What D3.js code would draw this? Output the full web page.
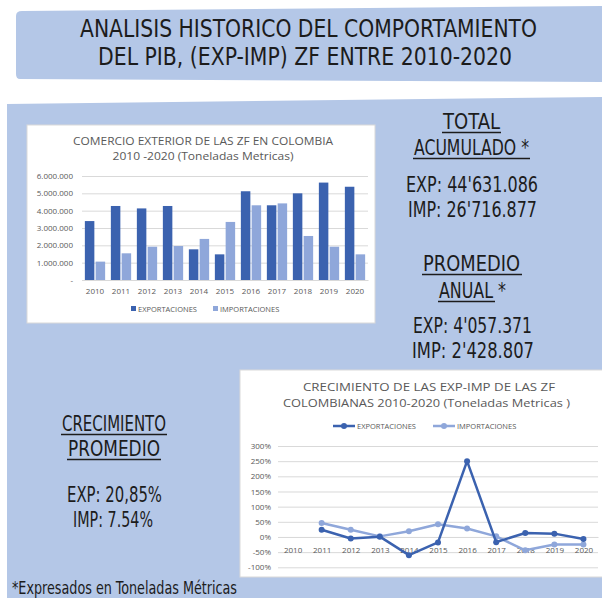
<!DOCTYPE html>
<html>
<head>
<meta charset="utf-8">
<script src="https://cdn.jsdelivr.net/npm/d3@7"></script>
<style>
  body { margin: 0; background: #fff; }
  svg { display: block; }
</style>
</head>
<body>
<div id="chart"></div>
<script>
// datos
const years = ["2010", "2011", "2012", "2013", "2014", "2015", "2016", "2017", "2018", "2019", "2020"];
const exportaciones = [3400000, 4270000, 4130000, 4270000, 1770000, 1480000, 5120000, 4310000, 5000000, 5620000, 5380000];
const importaciones = [1060000, 1540000, 1920000, 1960000, 2370000, 3350000, 4310000, 4420000, 2540000, 1920000, 1480000];
const barTicks = [0, 1000000, 2000000, 3000000, 4000000, 5000000, 6000000];

const crecExp = [null, 24, -5, 1, -60, -18, 250, -17, 13, 11, -7];
const crecImp = [null, 46, 24, 2, 19, 42, 28, 2, -44, -25, -25];
const pctTicks = [-100, -50, 0, 50, 100, 150, 200, 250, 300];

const seriesNames = ["EXPORTACIONES", "IMPORTACIONES"];
const titleLines = ["ANALISIS  HISTORICO DEL COMPORTAMIENTO", "DEL PIB, (EXP-IMP) ZF  ENTRE 2010-2020"];
const barTitle = ["COMERCIO EXTERIOR DE LAS ZF EN COLOMBIA", "2010 -2020 (Toneladas Metricas)"];
const lineTitle = ["CRECIMIENTO  DE LAS EXP-IMP DE LAS ZF", "COLOMBIANAS 2010-2020 (Toneladas Metricas )"];
const totalLines = ["EXP: 44'631.086", "IMP: 26'716.877"];
const promedioLines = ["EXP: 4'057.371", "IMP: 2'428.807"];
const crecLines = ["EXP: 20,85%", "IMP: 7.54%"];
const footnote = "*Expresados en Toneladas Métricas";

const width = 602;
const height = 598;
const blue = "#b4c7e7";
const expColor = "#3b62af";
const impColor = "#8fa7da";
const gray = "#595959";
const handFont = "'Liberation Sans Narrow', 'DejaVu Sans Condensed', sans-serif";
const chartFont = "'Open Sans', sans-serif";

let svg = d3.select("#chart")
    .append("svg")
    .attr("width", width)
    .attr("height", height);

// fondos
svg.append("path")
    .attr("d", "M16,16 Q16,11 22,11 L602,6 L602,82 L20,79 Q16,79 16,74 Z")
    .attr("fill", blue);
svg.append("path")
    .attr("d", "M7,104 L602,97 L602,598 L7,598 Z")
    .attr("fill", blue);

// texto a mano
function hand(txt, x1, x2, y, size, underline) {
    svg.append("text")
        .attr("x", (x1 + x2) / 2)
        .attr("y", y)
        .attr("text-anchor", "middle")
        .attr("textLength", x2 - x1)
        .attr("lengthAdjust", "spacingAndGlyphs")
        .style("font-family", handFont)
        .style("font-size", size + "px")
        .style("fill", "#1c1c1c")
        .text(txt);
    if (underline) {
        svg.append("line")
            .attr("x1", underline[0]).attr("x2", underline[1])
            .attr("y1", y + 3.5).attr("y2", y + 3.5)
            .style("stroke", "#1c1c1c")
            .style("stroke-width", 1.3);
    }
}

hand(titleLines[0], 80, 537, 37, 25);
hand(titleLines[1], 98, 512, 65, 25);

hand("TOTAL", 443, 500, 129, 22, [442, 501]);
hand("ACUMULADO *", 414, 529, 155, 22, [413, 530]);
hand(totalLines[0], 406, 538, 192, 22);
hand(totalLines[1], 408, 537, 217, 22);

hand("PROMEDIO", 423, 520, 271, 22, [422, 522]);
hand("ANUAL *", 439, 506, 298, 22, [438, 495]);
hand(promedioLines[0], 413, 532, 333, 22);
hand(promedioLines[1], 412, 534, 358, 22);

hand("CRECIMIENTO", 62, 166, 431, 21, [61, 167]);
hand("PROMEDIO", 68, 160, 456, 21, [67, 161]);
hand(crecLines[0], 67, 162, 502, 21);
hand(crecLines[1], 73, 153, 527, 21);
hand(footnote, 12, 237, 594, 17);

// ---------- grafico de barras ----------
const bBox = {x: 27, y: 125, w: 348, h: 198};
svg.append("rect")
    .attr("x", bBox.x).attr("y", bBox.y)
    .attr("width", bBox.w).attr("height", bBox.h)
    .attr("fill", "#fff")
    .style("stroke", "#d9d9d9");

const bPlot = {left: 82, right: 368, top: 176, bottom: 280};

let xBand = d3.scaleBand()
    .domain(years)
    .range([bPlot.left, bPlot.right])
    .paddingInner(0.22)
    .paddingOuter(0.11);
let xSub = d3.scaleBand()
    .domain(seriesNames)
    .range([0, xBand.bandwidth()])
    .paddingInner(0.12);
let yBar = d3.scaleLinear()
    .domain([0, 6000000])
    .range([bPlot.bottom, bPlot.top]);

const fmtMiles = d => d === 0 ? "-" : d3.format(",")(d).replace(/,/g, ".");

let gy = svg.append("g")
    .attr("transform", "translate(" + bPlot.left + ",0)")
    .call(d3.axisLeft(yBar).tickValues(barTicks).tickSize(-(bPlot.right - bPlot.left)).tickPadding(9).tickFormat(fmtMiles));
gy.select(".domain").remove();
gy.selectAll("line").style("stroke", "#d9d9d9");
gy.selectAll("text").style("font-family", chartFont).style("font-size", "8px").style("fill", gray);

let barData = years.map(function(y, i) {
    return [{s: seriesNames[0], v: exportaciones[i], c: expColor}, {s: seriesNames[1], v: importaciones[i], c: impColor}];
});

svg.append("g").selectAll("g")
    .data(barData)
    .enter()
    .append("g")
    .attr("transform", function(d, i) {return "translate(" + xBand(years[i]) + ",0)";})
    .selectAll("rect")
    .data(function(d) {return d;})
    .enter()
    .append("rect")
    .attr("x", function(d) {return xSub(d.s);})
    .attr("y", function(d) {return yBar(d.v);})
    .attr("width", xSub.bandwidth())
    .attr("height", function(d) {return yBar(0) - yBar(d.v);})
    .attr("fill", function(d) {return d.c;});

let gx = svg.append("g")
    .attr("transform", "translate(0," + bPlot.bottom + ")")
    .call(d3.axisBottom(xBand).tickSize(0).tickPadding(8));
gx.select(".domain").style("stroke", "#d9d9d9");
gx.selectAll("text").style("font-family", chartFont).style("font-size", "8px").style("fill", gray);

svg.selectAll(".btitle")
    .data(barTitle)
    .enter()
    .append("text")
    .attr("class", "btitle")
    .attr("x", 203)
    .attr("y", function(d, i) {return 145 + i * 15;})
    .attr("text-anchor", "middle")
    .attr("textLength", function(d, i) {return i === 0 ? 260 : 181;})
    .attr("lengthAdjust", "spacingAndGlyphs")
    .style("font-family", chartFont)
    .style("font-size", "11px")
    .style("fill", gray)
    .text(function(d) {return d;});

// leyenda barras
const bLegX = [131, 213];
seriesNames.forEach(function(n, i) {
    svg.append("rect")
        .attr("x", bLegX[i]).attr("y", 306)
        .attr("width", 5).attr("height", 5)
        .attr("fill", i === 0 ? expColor : impColor);
    svg.append("text")
        .attr("x", bLegX[i] + 7).attr("y", 311.5)
        .style("font-family", chartFont)
        .style("font-size", "7.5px")
        .style("fill", gray)
        .text(n);
});

// ---------- grafico de lineas ----------
const lBox = {x: 240, y: 370, w: 362, h: 207};
svg.append("rect")
    .attr("x", lBox.x).attr("y", lBox.y)
    .attr("width", lBox.w + 2).attr("height", lBox.h)
    .attr("fill", "#fff")
    .style("stroke", "#d9d9d9");

const lPlot = {left: 278, right: 598, top: 446, bottom: 567.3};

let xPt = d3.scalePoint()
    .domain(years)
    .range([lPlot.left, lPlot.right])
    .padding(0.5);
let yPct = d3.scaleLinear()
    .domain([-100, 300])
    .range([lPlot.bottom, lPlot.top]);

let gyl = svg.append("g")
    .attr("transform", "translate(" + lPlot.left + ",0)")
    .call(d3.axisLeft(yPct).tickValues(pctTicks).tickSize(-(lPlot.right - lPlot.left)).tickPadding(7).tickFormat(function(d) {return d + "%";}));
gyl.select(".domain").remove();
gyl.selectAll("line").style("stroke", "#d9d9d9");
gyl.selectAll("text").style("font-family", chartFont).style("font-size", "8px").style("fill", gray);

let gxl = svg.append("g")
    .attr("transform", "translate(0," + yPct(0) + ")")
    .call(d3.axisBottom(xPt).tickSize(0).tickPadding(10));
gxl.select(".domain").style("stroke", "#d9d9d9");
gxl.selectAll("text").style("font-family", chartFont).style("font-size", "8px").style("fill", gray);

let lineGen = d3.line()
    .defined(function(d) {return d !== null;})
    .x(function(d, i) {return xPt(years[i]);})
    .y(function(d) {return yPct(d);});

[[crecImp, impColor], [crecExp, expColor]].forEach(function(s) {
    svg.append("path")
        .datum(s[0])
        .attr("d", lineGen)
        .attr("fill", "none")
        .style("stroke", s[1])
        .style("stroke-width", 2.5)
        .style("stroke-linejoin", "round");
    svg.append("g").selectAll("circle")
        .data(s[0].map(function(v, i) {return {v: v, y: years[i]};}).filter(function(d) {return d.v !== null;}))
        .enter()
        .append("circle")
        .attr("cx", function(d) {return xPt(d.y);})
        .attr("cy", function(d) {return yPct(d.v);})
        .attr("r", 3)
        .attr("fill", s[1]);
});

svg.selectAll(".ltitle")
    .data(lineTitle)
    .enter()
    .append("text")
    .attr("class", "ltitle")
    .attr("x", function(d, i) {return i === 0 ? 429 : 426.5;})
    .attr("y", function(d, i) {return 391 + i * 16;})
    .attr("text-anchor", "middle")
    .attr("textLength", function(d, i) {return i === 0 ? 252 : 287;})
    .attr("lengthAdjust", "spacingAndGlyphs")
    .style("font-family", chartFont)
    .style("font-size", "11.5px")
    .style("fill", gray)
    .text(function(d) {return d;});

// leyenda lineas
const lLegX = [333, 433];
seriesNames.forEach(function(n, i) {
    let c = i === 0 ? expColor : impColor;
    svg.append("line")
        .attr("x1", lLegX[i]).attr("x2", lLegX[i] + 22)
        .attr("y1", 426).attr("y2", 426)
        .style("stroke", c)
        .style("stroke-width", 2.5);
    svg.append("circle")
        .attr("cx", lLegX[i] + 11).attr("cy", 426)
        .attr("r", 3)
        .attr("fill", c);
    svg.append("text")
        .attr("x", lLegX[i] + 24).attr("y", 428.7)
        .style("font-family", chartFont)
        .style("font-size", "7.5px")
        .style("fill", gray)
        .text(n);
});
</script>
</body>
</html>
